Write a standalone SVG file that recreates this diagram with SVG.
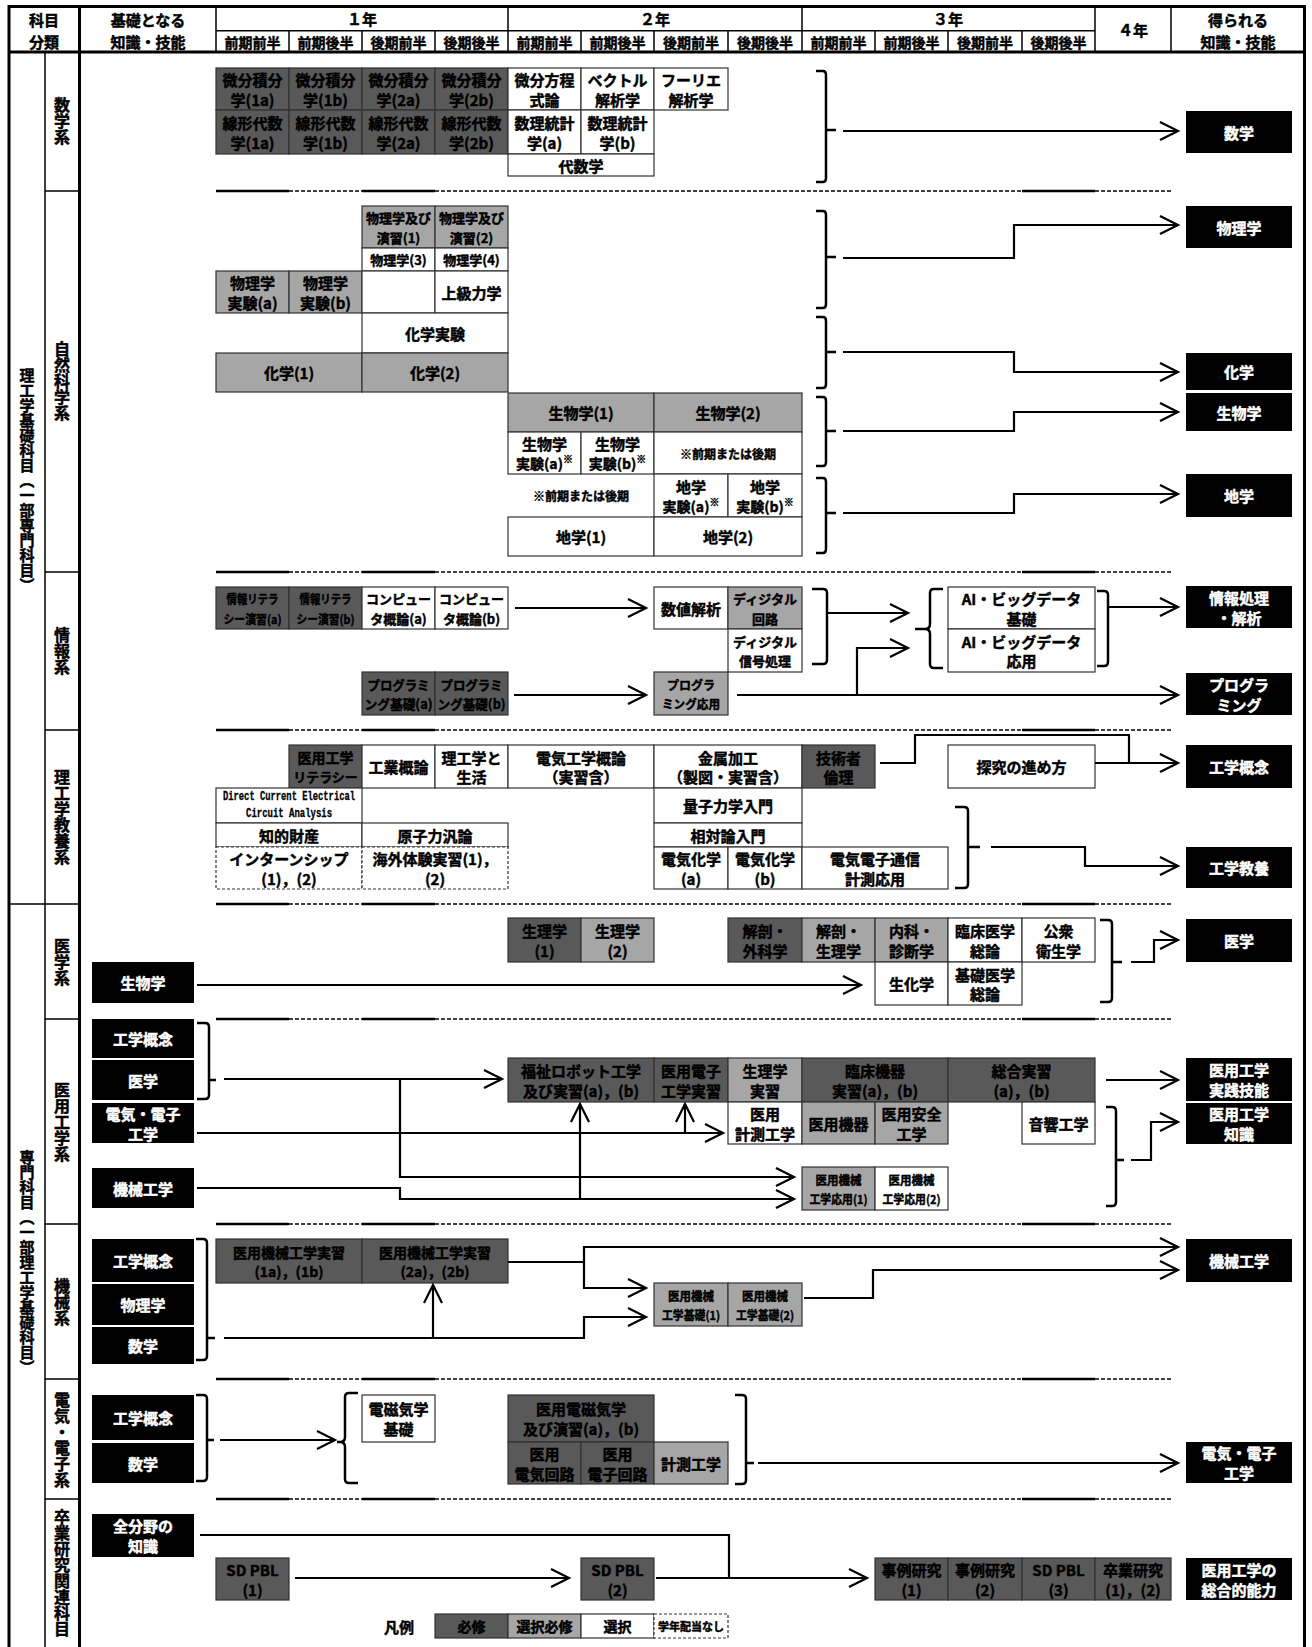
<svg xmlns="http://www.w3.org/2000/svg" width="1312" height="1647" viewBox="0 0 1312 1647">
<style>
.t{font-family:"Noto Sans CJK JP","Noto Sans",sans-serif;font-weight:700;text-anchor:middle;dominant-baseline:central;fill:#000;stroke:#000;stroke-width:0.45px;font-size:15px}
.wt{fill:#fff;stroke:#fff}
.s16{font-size:16px}.s14{font-size:14px}.s13{font-size:13px}.s12{font-size:12px}.s11{font-size:11px}
.mono{font-family:"Liberation Mono","DejaVu Sans Mono",monospace;font-size:12px;stroke-width:0.3px}
.bx{stroke:#333;stroke-width:1.2}
.dk{fill:#595959}.gr{fill:#a6a6a6}.wh{fill:#fff}.bk{fill:#000}
.ds{stroke-dasharray:3 2}
.fr{fill:none;stroke:#000}
.ln{fill:none;stroke:#000;stroke-width:2.2}
.br{fill:none;stroke:#000;stroke-width:2.5}
.ar{marker-end:url(#ah)}
.vt{writing-mode:vertical-rl;dominant-baseline:auto}
.sup{font-size:10px}
</style>
<defs>
<marker id="ah" viewBox="-21 -11 24 22" refX="0" refY="0" markerWidth="24" markerHeight="22" markerUnits="userSpaceOnUse" orient="auto">
<path d="M-18,-9 L0,0 L-18,9" fill="none" stroke="#000" stroke-width="2.2"/>
</marker>
<g id="dv">
<path d="M216,0H289M362,0H435M1022,0H1095" stroke="#000" stroke-width="2.5"/>
<path d="M289,0H362M435,0H1022M1095,0H1171" stroke="#000" stroke-width="1.5" stroke-dasharray="4 2"/>
</g>
</defs>
<rect x="0" y="0" width="1312" height="1647" fill="#fff"/>

<g id="frame" class="fr">
<path d="M7.5,6.5H1306M7.5,52H1306M9,5V1647M79.5,5V1647M1304.5,5V1647" stroke-width="3"/>
<path d="M45,52V1647M9,904H79.5M45,191H79.5M45,572H79.5M45,730H79.5M45,1019H79.5M45,1224H79.5M45,1379H79.5M45,1499H79.5" stroke-width="1.5"/>
<path d="M216,6V52M508,6V52M802,6V52M1095,6V52M1171,6V52M216,30.7H1095M289,30.7V52M362,30.7V52M435,30.7V52M581,30.7V52M654,30.7V52M728,30.7V52M875,30.7V52M948,30.7V52M1022,30.7V52" stroke-width="1.5"/>
</g>

<g id="header">
<text class="t" x="44" y="19">科目</text>
<text class="t" x="44" y="41">分類</text>
<text class="t" x="148" y="19">基礎となる</text>
<text class="t" x="148" y="41">知識・技能</text>
<text class="t" x="362" y="18.5">１年</text>
<text class="t" x="655" y="18.5">２年</text>
<text class="t" x="948" y="18.5">３年</text>
<text class="t" x="1133" y="29">４年</text>
<text class="t" x="1238" y="19">得られる</text>
<text class="t" x="1238" y="41">知識・技能</text>
<text class="t s14" x="252.5" y="41.5">前期前半</text>
<text class="t s14" x="325.5" y="41.5">前期後半</text>
<text class="t s14" x="398.5" y="41.5">後期前半</text>
<text class="t s14" x="471.5" y="41.5">後期後半</text>
<text class="t s14" x="544.5" y="41.5">前期前半</text>
<text class="t s14" x="617.5" y="41.5">前期後半</text>
<text class="t s14" x="691" y="41.5">後期前半</text>
<text class="t s14" x="765" y="41.5">後期後半</text>
<text class="t s14" x="838.5" y="41.5">前期前半</text>
<text class="t s14" x="911.5" y="41.5">前期後半</text>
<text class="t s14" x="985" y="41.5">後期前半</text>
<text class="t s14" x="1058.5" y="41.5">後期後半</text>
</g>

<g id="categories">
<text class="t vt" x="27" y="480">理工学基礎科目（一部専門科目）</text>
<text class="t vt" x="27" y="1262">専門科目（一部理工学基礎科目）</text>
<text class="t vt s16" x="62" y="121">数学系</text>
<text class="t vt s16" x="62" y="381">自然科学系</text>
<text class="t vt s16" x="62" y="651">情報系</text>
<text class="t vt s16" x="62" y="817">理工学教養系</text>
<text class="t vt s16" x="62" y="962">医学系</text>
<text class="t vt s16" x="62" y="1122">医用工学系</text>
<text class="t vt s16" x="62" y="1302">機械系</text>
<text class="t vt s16" x="62" y="1440">電気・電子系</text>
<text class="t vt s16" x="62" y="1573">卒業研究関連科目</text>
</g>

<g id="dividers">
<use href="#dv" transform="translate(0,191)"/>
<use href="#dv" transform="translate(0,572)"/>
<use href="#dv" transform="translate(0,730)"/>
<use href="#dv" transform="translate(0,904)"/>
<use href="#dv" transform="translate(0,1019)"/>
<use href="#dv" transform="translate(0,1224)"/>
<use href="#dv" transform="translate(0,1379)"/>
<use href="#dv" transform="translate(0,1499)"/>
</g>

<!-- 数学系 -->
<g id="calc1a"><rect class="bx dk" x="216" y="68" width="73" height="42"/><text class="t" x="252.5" y="79.5">微分積分</text><text class="t" x="252.5" y="99">学(1a)</text></g>
<g id="calc1b"><rect class="bx dk" x="289" y="68" width="73" height="42"/><text class="t" x="325.5" y="79.5">微分積分</text><text class="t" x="325.5" y="99">学(1b)</text></g>
<g id="calc2a"><rect class="bx dk" x="362" y="68" width="73" height="42"/><text class="t" x="398.5" y="79.5">微分積分</text><text class="t" x="398.5" y="99">学(2a)</text></g>
<g id="calc2b"><rect class="bx dk" x="435" y="68" width="73" height="42"/><text class="t" x="471.5" y="79.5">微分積分</text><text class="t" x="471.5" y="99">学(2b)</text></g>
<g id="diffeq"><rect class="bx wh" x="508" y="68" width="73" height="42"/><text class="t" x="544.5" y="79.5">微分方程</text><text class="t" x="544.5" y="99">式論</text></g>
<g id="vector"><rect class="bx wh" x="581" y="68" width="73" height="42"/><text class="t" x="617.5" y="79.5">ベクトル</text><text class="t" x="617.5" y="99">解析学</text></g>
<g id="fourier"><rect class="bx wh" x="654" y="68" width="74" height="42"/><text class="t" x="691" y="79.5">フーリエ</text><text class="t" x="691" y="99">解析学</text></g>
<g id="lin1a"><rect class="bx dk" x="216" y="110" width="73" height="44"/><text class="t" x="252.5" y="122.5">線形代数</text><text class="t" x="252.5" y="142">学(1a)</text></g>
<g id="lin1b"><rect class="bx dk" x="289" y="110" width="73" height="44"/><text class="t" x="325.5" y="122.5">線形代数</text><text class="t" x="325.5" y="142">学(1b)</text></g>
<g id="lin2a"><rect class="bx dk" x="362" y="110" width="73" height="44"/><text class="t" x="398.5" y="122.5">線形代数</text><text class="t" x="398.5" y="142">学(2a)</text></g>
<g id="lin2b"><rect class="bx dk" x="435" y="110" width="73" height="44"/><text class="t" x="471.5" y="122.5">線形代数</text><text class="t" x="471.5" y="142">学(2b)</text></g>
<g id="stat_a"><rect class="bx wh" x="508" y="110" width="73" height="44"/><text class="t" x="544.5" y="122.5">数理統計</text><text class="t" x="544.5" y="142">学(a)</text></g>
<g id="stat_b"><rect class="bx wh" x="581" y="110" width="73" height="44"/><text class="t" x="617.5" y="122.5">数理統計</text><text class="t" x="617.5" y="142">学(b)</text></g>
<g id="algebra"><rect class="bx wh" x="508" y="154" width="146" height="22"/><text class="t" x="581" y="165">代数学</text></g>

<!-- 自然科学系 -->
<g id="phys_ex1"><rect class="bx gr" x="362" y="206" width="73" height="42"/><text class="t s13" x="398.5" y="217.5">物理学及び</text><text class="t s13" x="398.5" y="237">演習(1)</text></g>
<g id="phys_ex2"><rect class="bx gr" x="435" y="206" width="73" height="42"/><text class="t s13" x="471.5" y="217.5">物理学及び</text><text class="t s13" x="471.5" y="237">演習(2)</text></g>
<g id="phys3"><rect class="bx wh" x="362" y="248" width="73" height="23"/><text class="t s13" x="398.5" y="259.5">物理学(3)</text></g>
<g id="phys4"><rect class="bx wh" x="435" y="248" width="73" height="23"/><text class="t s13" x="471.5" y="259.5">物理学(4)</text></g>
<g id="physlab_a"><rect class="bx gr" x="216" y="271" width="73" height="42"/><text class="t" x="252.5" y="282.5">物理学</text><text class="t" x="252.5" y="302">実験(a)</text></g>
<g id="physlab_b"><rect class="bx gr" x="289" y="271" width="73" height="42"/><text class="t" x="325.5" y="282.5">物理学</text><text class="t" x="325.5" y="302">実験(b)</text></g>
<g id="empty1"><rect class="bx wh" x="362" y="271" width="73" height="42"/></g>
<g id="adv_mech"><rect class="bx wh" x="435" y="271" width="73" height="42"/><text class="t" x="471.5" y="292">上級力学</text></g>
<g id="chemlab"><rect class="bx wh" x="362" y="313" width="146" height="40"/><text class="t" x="435" y="333">化学実験</text></g>
<g id="chem1"><rect class="bx gr" x="216" y="353" width="146" height="39"/><text class="t" x="289" y="372.5">化学(1)</text></g>
<g id="chem2"><rect class="bx gr" x="362" y="353" width="146" height="39"/><text class="t" x="435" y="372.5">化学(2)</text></g>
<g id="bio1"><rect class="bx gr" x="508" y="393" width="146" height="39"/><text class="t" x="581" y="412.5">生物学(1)</text></g>
<g id="bio2"><rect class="bx gr" x="654" y="393" width="148" height="39"/><text class="t" x="728" y="412.5">生物学(2)</text></g>
<g id="biolab_a"><rect class="bx wh" x="508" y="432" width="73" height="42"/><text class="t" x="544.5" y="443.5">生物学</text><text class="t s14" x="544.5" y="463">実験(a)<tspan class="sup" dy="-5">※</tspan></text></g>
<g id="biolab_b"><rect class="bx wh" x="581" y="432" width="73" height="42"/><text class="t" x="617.5" y="443.5">生物学</text><text class="t s14" x="617.5" y="463">実験(b)<tspan class="sup" dy="-5">※</tspan></text></g>
<g id="note_bio"><rect class="bx wh" x="654" y="432" width="148" height="42"/><text class="t s12" x="728" y="453">※前期または後期</text></g>
<g id="note_earth"><text class="t s12" x="581" y="495.5">※前期または後期</text></g>
<g id="earthlab_a"><rect class="bx wh" x="654" y="474" width="74" height="43"/><text class="t" x="691" y="486">地学</text><text class="t s14" x="691" y="505.5">実験(a)<tspan class="sup" dy="-5">※</tspan></text></g>
<g id="earthlab_b"><rect class="bx wh" x="728" y="474" width="74" height="43"/><text class="t" x="765" y="486">地学</text><text class="t s14" x="765" y="505.5">実験(b)<tspan class="sup" dy="-5">※</tspan></text></g>
<g id="earth1"><rect class="bx wh" x="508" y="517" width="146" height="39"/><text class="t" x="581" y="536.5">地学(1)</text></g>
<g id="earth2"><rect class="bx wh" x="654" y="517" width="148" height="39"/><text class="t" x="728" y="536.5">地学(2)</text></g>

<!-- 情報系 -->
<g id="infolit_a"><rect class="bx dk" x="216" y="587" width="73" height="42"/><text class="t s12" x="252.5" y="598.5" textLength="52" lengthAdjust="spacingAndGlyphs">情報リテラ</text><text class="t s12" x="252.5" y="618" textLength="58" lengthAdjust="spacingAndGlyphs">シー演習(a)</text></g>
<g id="infolit_b"><rect class="bx dk" x="289" y="587" width="73" height="42"/><text class="t s12" x="325.5" y="598.5" textLength="52" lengthAdjust="spacingAndGlyphs">情報リテラ</text><text class="t s12" x="325.5" y="618" textLength="58" lengthAdjust="spacingAndGlyphs">シー演習(b)</text></g>
<g id="comp_a"><rect class="bx wh" x="362" y="587" width="73" height="42"/><text class="t s13" x="398.5" y="598.5">コンピュー</text><text class="t s13" x="398.5" y="618">タ概論(a)</text></g>
<g id="comp_b"><rect class="bx wh" x="435" y="587" width="73" height="42"/><text class="t s13" x="471.5" y="598.5">コンピュー</text><text class="t s13" x="471.5" y="618">タ概論(b)</text></g>
<g id="numerical"><rect class="bx wh" x="654" y="587" width="74" height="42"/><text class="t" x="691" y="608">数値解析</text></g>
<g id="digcirc"><rect class="bx gr" x="728" y="587" width="74" height="42"/><text class="t s13" x="765" y="598.5">ディジタル</text><text class="t s13" x="765" y="618">回路</text></g>
<g id="digsig"><rect class="bx wh" x="728" y="629" width="74" height="43"/><text class="t s13" x="765" y="641">ディジタル</text><text class="t s13" x="765" y="660.5">信号処理</text></g>
<g id="ai_basic"><rect class="bx wh" x="948" y="587" width="147" height="42"/><text class="t" x="1021.5" y="598.5">AI・ビッグデータ</text><text class="t" x="1021.5" y="618">基礎</text></g>
<g id="ai_app"><rect class="bx wh" x="948" y="629" width="147" height="43"/><text class="t" x="1021.5" y="641">AI・ビッグデータ</text><text class="t" x="1021.5" y="660.5">応用</text></g>
<g id="prog_a"><rect class="bx dk" x="362" y="672" width="73" height="43"/><text class="t s13" x="398.5" y="684" textLength="62" lengthAdjust="spacingAndGlyphs">プログラミ</text><text class="t s13" x="398.5" y="703.5" textLength="68" lengthAdjust="spacingAndGlyphs">ング基礎(a)</text></g>
<g id="prog_b"><rect class="bx dk" x="435" y="672" width="73" height="43"/><text class="t s13" x="471.5" y="684" textLength="62" lengthAdjust="spacingAndGlyphs">プログラミ</text><text class="t s13" x="471.5" y="703.5" textLength="68" lengthAdjust="spacingAndGlyphs">ング基礎(b)</text></g>
<g id="prog_app"><rect class="bx gr" x="654" y="672" width="74" height="43"/><text class="t s12" x="691" y="684" textLength="48" lengthAdjust="spacingAndGlyphs">プログラ</text><text class="t s12" x="691" y="703.5" textLength="58" lengthAdjust="spacingAndGlyphs">ミング応用</text></g>

<!-- 理工学教養系 -->
<g id="medlit"><rect class="bx dk" x="289" y="745" width="73" height="43"/><text class="t s14" x="325.5" y="757">医用工学</text><text class="t s13" x="325.5" y="776.5">リテラシー</text></g>
<g id="industry"><rect class="bx wh" x="362" y="745" width="73" height="43"/><text class="t" x="398.5" y="766.5">工業概論</text></g>
<g id="sci_life"><rect class="bx wh" x="435" y="745" width="73" height="43"/><text class="t" x="471.5" y="757">理工学と</text><text class="t" x="471.5" y="776.5">生活</text></g>
<g id="elec_intro"><rect class="bx wh" x="508" y="745" width="146" height="43"/><text class="t" x="581" y="757">電気工学概論</text><text class="t" x="581" y="776.5">（実習含）</text></g>
<g id="metal"><rect class="bx wh" x="654" y="745" width="148" height="43"/><text class="t" x="728" y="757">金属加工</text><text class="t" x="728" y="776.5">（製図・実習含）</text></g>
<g id="ethics"><rect class="bx dk" x="802" y="745" width="73" height="43"/><text class="t" x="838.5" y="757">技術者</text><text class="t" x="838.5" y="776.5">倫理</text></g>
<g id="inquiry"><rect class="bx wh" x="948" y="745" width="147" height="43"/><text class="t" x="1021.5" y="766.5">探究の進め方</text></g>
<g id="dc_circuit"><rect class="bx wh" x="216" y="788" width="146" height="35"/><text class="t mono" x="289" y="797" textLength="132" lengthAdjust="spacingAndGlyphs">Direct Current Electrical</text><text class="t mono" x="289" y="814" textLength="86" lengthAdjust="spacingAndGlyphs">Circuit Analysis</text></g>
<g id="quantum"><rect class="bx wh" x="654" y="788" width="148" height="35"/><text class="t" x="728" y="805.5">量子力学入門</text></g>
<g id="ip"><rect class="bx wh" x="216" y="823" width="146" height="24"/><text class="t" x="289" y="835">知的財産</text></g>
<g id="nuclear"><rect class="bx wh" x="362" y="823" width="146" height="24"/><text class="t" x="435" y="835">原子力汎論</text></g>
<g id="relativity"><rect class="bx wh" x="654" y="823" width="148" height="24"/><text class="t" x="728" y="835">相対論入門</text></g>
<g id="intern"><rect class="bx wh ds" x="216" y="847" width="146" height="42"/><text class="t" x="289" y="858.5">インターンシップ</text><text class="t" x="289" y="878">(1)，(2)</text></g>
<g id="overseas"><rect class="bx wh ds" x="362" y="847" width="146" height="42"/><text class="t" x="435" y="858.5">海外体験実習(1)，</text><text class="t" x="435" y="878">(2)</text></g>
<g id="echem_a"><rect class="bx wh" x="654" y="847" width="74" height="42"/><text class="t" x="691" y="858.5">電気化学</text><text class="t" x="691" y="878">(a)</text></g>
<g id="echem_b"><rect class="bx wh" x="728" y="847" width="74" height="42"/><text class="t" x="765" y="858.5">電気化学</text><text class="t" x="765" y="878">(b)</text></g>
<g id="telecom"><rect class="bx wh" x="802" y="847" width="146" height="42"/><text class="t" x="875" y="858.5">電気電子通信</text><text class="t" x="875" y="878">計測応用</text></g>

<!-- 医学系 -->
<g id="physio1"><rect class="bx dk" x="508" y="918" width="73" height="44"/><text class="t" x="544.5" y="930.5">生理学</text><text class="t" x="544.5" y="950">(1)</text></g>
<g id="physio2"><rect class="bx gr" x="581" y="918" width="73" height="44"/><text class="t" x="617.5" y="930.5">生理学</text><text class="t" x="617.5" y="950">(2)</text></g>
<g id="anat_surg"><rect class="bx dk" x="728" y="918" width="74" height="44"/><text class="t" x="765" y="930.5">解剖・</text><text class="t" x="765" y="950">外科学</text></g>
<g id="anat_phys"><rect class="bx gr" x="802" y="918" width="73" height="44"/><text class="t" x="838.5" y="930.5">解剖・</text><text class="t" x="838.5" y="950">生理学</text></g>
<g id="internal"><rect class="bx gr" x="875" y="918" width="73" height="44"/><text class="t" x="911.5" y="930.5">内科・</text><text class="t" x="911.5" y="950">診断学</text></g>
<g id="clinical"><rect class="bx wh" x="948" y="918" width="74" height="44"/><text class="t" x="985" y="930.5">臨床医学</text><text class="t" x="985" y="950">総論</text></g>
<g id="public"><rect class="bx wh" x="1022" y="918" width="73" height="44"/><text class="t" x="1058.5" y="930.5">公衆</text><text class="t" x="1058.5" y="950">衛生学</text></g>
<g id="biochem"><rect class="bx wh" x="875" y="962" width="73" height="43"/><text class="t" x="911.5" y="983.5">生化学</text></g>
<g id="basicmed"><rect class="bx wh" x="948" y="962" width="74" height="43"/><text class="t" x="985" y="974">基礎医学</text><text class="t" x="985" y="993.5">総論</text></g>

<!-- 医用工学系 -->
<g id="welfare"><rect class="bx dk" x="508" y="1058" width="146" height="44"/><text class="t" x="581" y="1070.5">福祉ロボット工学</text><text class="t" x="581" y="1090">及び実習(a)，(b)</text></g>
<g id="medelec_lab"><rect class="bx dk" x="654" y="1058" width="74" height="44"/><text class="t" x="691" y="1070.5">医用電子</text><text class="t" x="691" y="1090">工学実習</text></g>
<g id="physio_lab"><rect class="bx gr" x="728" y="1058" width="74" height="44"/><text class="t" x="765" y="1070.5">生理学</text><text class="t" x="765" y="1090">実習</text></g>
<g id="clin_dev"><rect class="bx dk" x="802" y="1058" width="146" height="44"/><text class="t" x="875" y="1070.5">臨床機器</text><text class="t" x="875" y="1090">実習(a)，(b)</text></g>
<g id="total_lab"><rect class="bx dk" x="948" y="1058" width="147" height="44"/><text class="t" x="1021.5" y="1070.5">総合実習</text><text class="t" x="1021.5" y="1090">(a)，(b)</text></g>
<g id="med_meas"><rect class="bx wh" x="728" y="1102" width="74" height="42"/><text class="t" x="765" y="1113.5">医用</text><text class="t" x="765" y="1133">計測工学</text></g>
<g id="med_dev"><rect class="bx gr" x="802" y="1102" width="73" height="42"/><text class="t" x="838.5" y="1123">医用機器</text></g>
<g id="med_safe"><rect class="bx gr" x="875" y="1102" width="73" height="42"/><text class="t" x="911.5" y="1113.5">医用安全</text><text class="t" x="911.5" y="1133">工学</text></g>
<g id="acoustic"><rect class="bx wh" x="1022" y="1102" width="73" height="42"/><text class="t" x="1058.5" y="1123">音響工学</text></g>
<g id="mecha_app1"><rect class="bx gr" x="802" y="1167" width="73" height="43"/><text class="t s12" x="838.5" y="1179" textLength="46" lengthAdjust="spacingAndGlyphs">医用機械</text><text class="t s12" x="838.5" y="1198.5" textLength="58" lengthAdjust="spacingAndGlyphs">工学応用(1)</text></g>
<g id="mecha_app2"><rect class="bx wh" x="875" y="1167" width="73" height="43"/><text class="t s12" x="911.5" y="1179" textLength="46" lengthAdjust="spacingAndGlyphs">医用機械</text><text class="t s12" x="911.5" y="1198.5" textLength="58" lengthAdjust="spacingAndGlyphs">工学応用(2)</text></g>

<!-- 機械系 -->
<g id="mecha_lab1"><rect class="bx dk" x="216" y="1239" width="146" height="44"/><text class="t s14" x="289" y="1251.5">医用機械工学実習</text><text class="t s14" x="289" y="1271">(1a)，(1b)</text></g>
<g id="mecha_lab2"><rect class="bx dk" x="362" y="1239" width="146" height="44"/><text class="t s14" x="435" y="1251.5">医用機械工学実習</text><text class="t s14" x="435" y="1271">(2a)，(2b)</text></g>
<g id="mecha_base1"><rect class="bx gr" x="654" y="1283" width="74" height="43"/><text class="t s12" x="691" y="1295" textLength="46" lengthAdjust="spacingAndGlyphs">医用機械</text><text class="t s12" x="691" y="1314.5" textLength="58" lengthAdjust="spacingAndGlyphs">工学基礎(1)</text></g>
<g id="mecha_base2"><rect class="bx gr" x="728" y="1283" width="74" height="43"/><text class="t s12" x="765" y="1295" textLength="46" lengthAdjust="spacingAndGlyphs">医用機械</text><text class="t s12" x="765" y="1314.5" textLength="58" lengthAdjust="spacingAndGlyphs">工学基礎(2)</text></g>

<!-- 電気・電子系 -->
<g id="em_basic"><rect class="bx wh" x="362" y="1395" width="73" height="47"/><text class="t" x="398.5" y="1408">電磁気学</text><text class="t" x="398.5" y="1428.5">基礎</text></g>
<g id="med_em"><rect class="bx dk" x="508" y="1395" width="146" height="47"/><text class="t" x="581" y="1408">医用電磁気学</text><text class="t" x="581" y="1428.5">及び演習(a)，(b)</text></g>
<g id="med_ecirc"><rect class="bx dk" x="508" y="1442" width="73" height="42"/><text class="t" x="544.5" y="1453.5">医用</text><text class="t" x="544.5" y="1473">電気回路</text></g>
<g id="med_ncirc"><rect class="bx dk" x="581" y="1442" width="73" height="42"/><text class="t" x="617.5" y="1453.5">医用</text><text class="t" x="617.5" y="1473">電子回路</text></g>
<g id="meas"><rect class="bx gr" x="654" y="1442" width="74" height="42"/><text class="t" x="691" y="1463">計測工学</text></g>

<!-- 卒業研究関連科目 -->
<g id="sdpbl1"><rect class="bx dk" x="216" y="1558" width="73" height="42"/><text class="t" x="252.5" y="1569.5">SD PBL</text><text class="t" x="252.5" y="1589">(1)</text></g>
<g id="sdpbl2"><rect class="bx dk" x="581" y="1558" width="73" height="42"/><text class="t" x="617.5" y="1569.5">SD PBL</text><text class="t" x="617.5" y="1589">(2)</text></g>
<g id="case1"><rect class="bx dk" x="875" y="1558" width="73" height="42"/><text class="t" x="911.5" y="1569.5">事例研究</text><text class="t" x="911.5" y="1589">(1)</text></g>
<g id="case2"><rect class="bx dk" x="948" y="1558" width="74" height="42"/><text class="t" x="985" y="1569.5">事例研究</text><text class="t" x="985" y="1589">(2)</text></g>
<g id="sdpbl3"><rect class="bx dk" x="1022" y="1558" width="73" height="42"/><text class="t" x="1058.5" y="1569.5">SD PBL</text><text class="t" x="1058.5" y="1589">(3)</text></g>
<g id="thesis"><rect class="bx dk" x="1095" y="1558" width="76" height="42"/><text class="t" x="1133" y="1569.5">卒業研究</text><text class="t" x="1133" y="1589">(1)，(2)</text></g>

<!-- 基礎となる知識 (left black) -->
<g id="in_bio"><rect class="bk" x="92" y="962" width="102" height="41"/><text class="t wt" x="143" y="982.5">生物学</text></g>
<g id="in_eng1"><rect class="bk" x="92" y="1019" width="102" height="39"/><text class="t wt" x="143" y="1038.5">工学概念</text></g>
<g id="in_med"><rect class="bk" x="92" y="1060" width="102" height="40"/><text class="t wt" x="143" y="1080">医学</text></g>
<g id="in_ee1"><rect class="bk" x="92" y="1103" width="102" height="40"/><text class="t wt" x="143" y="1113">電気・電子</text><text class="t wt" x="143" y="1133">工学</text></g>
<g id="in_mech1"><rect class="bk" x="92" y="1168" width="102" height="40"/><text class="t wt" x="143" y="1188">機械工学</text></g>
<g id="in_eng2"><rect class="bk" x="92" y="1239" width="102" height="43"/><text class="t wt" x="143" y="1260.5">工学概念</text></g>
<g id="in_phys"><rect class="bk" x="92" y="1284" width="102" height="41"/><text class="t wt" x="143" y="1304.5">物理学</text></g>
<g id="in_math1"><rect class="bk" x="92" y="1327" width="102" height="37"/><text class="t wt" x="143" y="1345.5">数学</text></g>
<g id="in_eng3"><rect class="bk" x="92" y="1395" width="102" height="45"/><text class="t wt" x="143" y="1417.5">工学概念</text></g>
<g id="in_math2"><rect class="bk" x="92" y="1443" width="102" height="40"/><text class="t wt" x="143" y="1463">数学</text></g>
<g id="in_all"><rect class="bk" x="92" y="1514" width="102" height="43"/><text class="t wt" x="143" y="1525.5">全分野の</text><text class="t wt" x="143" y="1545">知識</text></g>

<!-- 得られる知識 (right black) -->
<g id="out_math"><rect class="bk" x="1186" y="111" width="106" height="42"/><text class="t wt" x="1239" y="132">数学</text></g>
<g id="out_phys"><rect class="bk" x="1186" y="206" width="106" height="42"/><text class="t wt" x="1239" y="227">物理学</text></g>
<g id="out_chem"><rect class="bk" x="1186" y="353" width="106" height="37"/><text class="t wt" x="1239" y="371.5">化学</text></g>
<g id="out_bio"><rect class="bk" x="1186" y="393" width="106" height="38"/><text class="t wt" x="1239" y="412">生物学</text></g>
<g id="out_earth"><rect class="bk" x="1186" y="474" width="106" height="43"/><text class="t wt" x="1239" y="495.5">地学</text></g>
<g id="out_info"><rect class="bk" x="1186" y="586" width="106" height="42"/><text class="t wt" x="1239" y="597">情報処理</text><text class="t wt" x="1239" y="617">・解析</text></g>
<g id="out_prog"><rect class="bk" x="1186" y="673" width="106" height="42"/><text class="t wt" x="1239" y="684">プログラ</text><text class="t wt" x="1239" y="704">ミング</text></g>
<g id="out_engc"><rect class="bk" x="1186" y="745" width="106" height="43"/><text class="t wt" x="1239" y="766.5">工学概念</text></g>
<g id="out_enge"><rect class="bk" x="1186" y="847" width="106" height="41"/><text class="t wt" x="1239" y="867.5">工学教養</text></g>
<g id="out_med"><rect class="bk" x="1186" y="919" width="106" height="43"/><text class="t wt" x="1239" y="940.5">医学</text></g>
<g id="out_mepr"><rect class="bk" x="1186" y="1058" width="106" height="43"/><text class="t wt" x="1239" y="1069.5">医用工学</text><text class="t wt" x="1239" y="1089.5">実践技能</text></g>
<g id="out_mekn"><rect class="bk" x="1186" y="1103" width="106" height="41"/><text class="t wt" x="1239" y="1113.5">医用工学</text><text class="t wt" x="1239" y="1133">知識</text></g>
<g id="out_mech"><rect class="bk" x="1186" y="1239" width="106" height="43"/><text class="t wt" x="1239" y="1260.5">機械工学</text></g>
<g id="out_ee"><rect class="bk" x="1186" y="1442" width="106" height="41"/><text class="t wt" x="1239" y="1452.5">電気・電子</text><text class="t wt" x="1239" y="1472.5">工学</text></g>
<g id="out_total"><rect class="bk" x="1186" y="1558" width="106" height="42"/><text class="t wt" x="1239" y="1569">医用工学の</text><text class="t wt" x="1239" y="1589">総合的能力</text></g>

<!-- 凡例 -->
<g id="legend">
<text class="t" x="399" y="1626">凡例</text>
<rect class="bx dk" x="435" y="1614" width="73" height="24"/><text class="t s14" x="471.5" y="1626">必修</text>
<rect class="bx gr" x="508" y="1614" width="73" height="24"/><text class="t s14" x="544.5" y="1626">選択必修</text>
<rect class="bx wh" x="581" y="1614" width="73" height="24"/><text class="t s14" x="617.5" y="1626">選択</text>
<rect class="bx wh ds" x="654" y="1614" width="74" height="24"/><text class="t s11" x="691" y="1626">学年配当なし</text>
</g>

<g id="connectors">
<path class="br" d="M816,71H823Q826,71 826,75V178Q826,182 823,182H816M826,130H836"/>
<path class="br" d="M816,211H823Q826,211 826,215V304Q826,308 823,308H816M826,257H836"/>
<path class="br" d="M816,317H823Q826,317 826,321V384Q826,388 823,388H816M826,352H836"/>
<path class="br" d="M816,397H823Q826,397 826,401V462Q826,466 823,466H816M826,431H836"/>
<path class="br" d="M816,478H823Q826,478 826,482V549Q826,553 823,553H816M826,513H836"/>
<path class="br" d="M812,589H823Q827,589 827,593V660Q827,664 823,664H812"/>
<path class="br" d="M943,589H934Q930,589 930,593V624Q930,629 925,629H915M925,629Q930,629 930,634V664Q930,668 934,668H943"/>
<path class="br" d="M1097,591H1104Q1108,591 1108,595V662Q1108,666 1104,666H1097"/>
<path class="br" d="M955,807H964Q968,807 968,811V884Q968,888 964,888H955M968,847H980"/>
<path class="br" d="M1100,920H1108Q1112,920 1112,924V998Q1112,1002 1108,1002H1100M1112,962H1122"/>
<path class="br" d="M197,1023H205Q209,1023 209,1027V1095Q209,1099 205,1099H197M209,1080H216"/>
<path class="br" d="M1106,1107H1112Q1116,1107 1116,1111V1202Q1116,1206 1112,1206H1106M1116,1160H1124"/>
<path class="br" d="M196,1239H203Q207,1239 207,1243V1356Q207,1360 203,1360H196M207,1338H215"/>
<path class="br" d="M196,1395H203Q207,1395 207,1399V1477Q207,1481 203,1481H196M207,1440H214"/>
<path class="br" d="M358,1393H349Q345,1393 345,1397V1437Q345,1442 340,1442H337M340,1442Q345,1442 345,1447V1479Q345,1483 349,1483H358"/>
<path class="br" d="M735,1395H742Q746,1395 746,1399V1480Q746,1484 742,1484H735M746,1463H754"/>
<path class="ln ar" d="M843,131H1178"/>
<path class="ln ar" d="M843,258H1014V225H1178"/>
<path class="ln ar" d="M843,352H1014V372H1178"/>
<path class="ln ar" d="M843,431H1014V412H1178"/>
<path class="ln ar" d="M843,513H1014V494H1178"/>
<path class="ln ar" d="M515,608H646"/>
<path class="ln ar" d="M514,695H646"/>
<path class="ln ar" d="M827,613H908"/>
<path class="ln ar" d="M857,695V648H908"/>
<path class="ln ar" d="M737,695H1178"/>
<path class="ln ar" d="M1108,607H1178"/>
<path class="ln" d="M880,763H915V735H1129V763"/>
<path class="ln ar" d="M1095,763H1178"/>
<path class="ln ar" d="M991,847H1085V866H1178"/>
<path class="ln ar" d="M197,985H861"/>
<path class="ln ar" d="M1131,962H1154V940H1178"/>
<path class="ln ar" d="M224,1079H502"/>
<path class="ln ar" d="M400,1079V1177H794"/>
<path class="ln ar" d="M197,1133H723"/>
<path class="ln ar" d="M685,1133V1104"/>
<path class="ln ar" d="M197,1188H400V1199H794"/>
<path class="ln ar" d="M580,1199V1104"/>
<path class="ln ar" d="M1106,1080H1178"/>
<path class="ln ar" d="M1131,1160H1151V1122H1178"/>
<path class="ln ar" d="M224,1338H584V1317H646"/>
<path class="ln ar" d="M433,1338V1285"/>
<path class="ln ar" d="M508,1262H584V1288H646"/>
<path class="ln ar" d="M584,1262V1247H1178"/>
<path class="ln ar" d="M804,1298H873V1270H1178"/>
<path class="ln ar" d="M220,1440H335"/>
<path class="ln ar" d="M758,1463H1178"/>
<path class="ln" d="M200,1535H729V1578"/>
<path class="ln ar" d="M295,1578H569"/>
<path class="ln ar" d="M656,1578H867"/>
</g>
</svg>
